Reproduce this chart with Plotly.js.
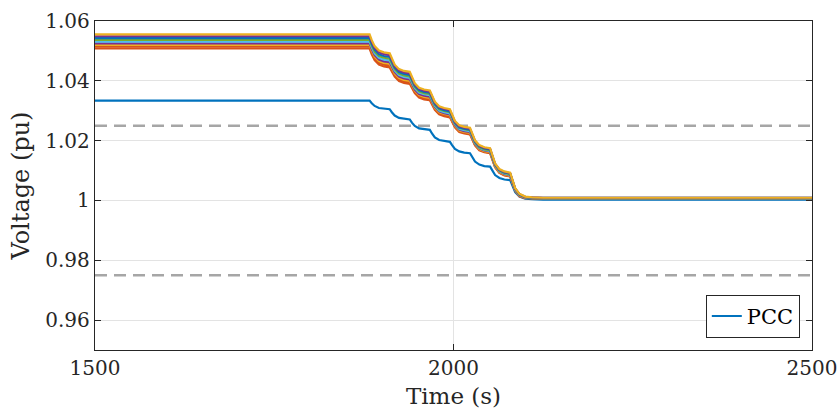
<!DOCTYPE html>
<html>
<head>
<meta charset="utf-8">
<script src="https://cdn.plot.ly/plotly-3.0.1.min.js"></script>
<style>html,body{margin:0;padding:0;background:#fff;}#chart{width:839px;height:419px;}</style>
</head>
<body>
<div id="chart"></div>
<script>
// Time axis (s)
const time = [1500,1883,1886,1890,1896,1903,1911,1914,1918,1924,1931,1939,1942,1946,1952,1959,1967,1970,1974,1980,1987,1995,1998,2002,2008,2015,2023,2026,2030,2036,2043,2051,2054,2058,2064,2071,2079,2082,2086,2092,2100,2110,2125,2500];

// PCC voltage (pu)
const pcc = [1.0334,1.0334,1.0325,1.0316,1.0309,1.0306,1.0305,1.0295,1.0284,1.0276,1.0273,1.0271,1.0260,1.0249,1.0241,1.0238,1.0236,1.0224,1.0211,1.0202,1.0198,1.0196,1.0185,1.0172,1.0164,1.0160,1.0158,1.0144,1.0130,1.0120,1.0115,1.0113,1.0100,1.0085,1.0075,1.0070,1.0068,1.0048,1.0028,1.0013,1.0006,1.0004,1.0003,1.0003];

// Other bus voltages (pu), top to bottom
const busTop = [1.0555,1.0555,1.0536,1.0516,1.0501,1.0495,1.0492,1.0473,1.0454,1.0439,1.0433,1.0430,1.0411,1.0392,1.0377,1.0371,1.0368,1.0349,1.0330,1.0315,1.0309,1.0305,1.0286,1.0266,1.0251,1.0246,1.0243,1.0223,1.0201,1.0185,1.0178,1.0175,1.0150,1.0124,1.0105,1.0097,1.0093,1.0068,1.0041,1.0022,1.0013,1.0010,1.0009,1.0009];
const busA = [1.0549,1.0549,1.0530,1.0510,1.0495,1.0489,1.0486,1.0468,1.0449,1.0434,1.0428,1.0425,1.0407,1.0388,1.0373,1.0367,1.0364,1.0346,1.0327,1.0312,1.0306,1.0302,1.0283,1.0263,1.0248,1.0243,1.0240,1.0221,1.0199,1.0183,1.0176,1.0173,1.0148,1.0122,1.0103,1.0095,1.0091,1.0067,1.0040,1.0021,1.0012,1.0010,1.0009,1.0009];
const busB = [1.0543,1.0543,1.0524,1.0504,1.0489,1.0483,1.0480,1.0463,1.0444,1.0429,1.0423,1.0420,1.0403,1.0384,1.0369,1.0363,1.0360,1.0342,1.0323,1.0308,1.0302,1.0298,1.0280,1.0260,1.0245,1.0240,1.0237,1.0219,1.0197,1.0181,1.0174,1.0171,1.0147,1.0121,1.0102,1.0094,1.0090,1.0066,1.0039,1.0020,1.0012,1.0009,1.0009,1.0009];
const busC = [1.0537,1.0537,1.0518,1.0498,1.0483,1.0477,1.0474,1.0458,1.0439,1.0424,1.0418,1.0415,1.0399,1.0380,1.0365,1.0359,1.0356,1.0339,1.0320,1.0305,1.0299,1.0295,1.0278,1.0258,1.0243,1.0238,1.0235,1.0216,1.0194,1.0178,1.0171,1.0168,1.0145,1.0119,1.0100,1.0092,1.0088,1.0065,1.0038,1.0019,1.0011,1.0009,1.0008,1.0008];
const busD = [1.0531,1.0531,1.0512,1.0492,1.0477,1.0471,1.0468,1.0453,1.0434,1.0419,1.0413,1.0410,1.0395,1.0376,1.0361,1.0355,1.0352,1.0335,1.0316,1.0301,1.0295,1.0291,1.0275,1.0255,1.0240,1.0235,1.0232,1.0214,1.0192,1.0176,1.0169,1.0166,1.0143,1.0117,1.0098,1.0090,1.0086,1.0064,1.0037,1.0018,1.0011,1.0009,1.0008,1.0008];
const busE = [1.0525,1.0525,1.0506,1.0486,1.0471,1.0465,1.0462,1.0448,1.0429,1.0414,1.0408,1.0405,1.0390,1.0371,1.0356,1.0350,1.0347,1.0332,1.0313,1.0298,1.0292,1.0288,1.0272,1.0252,1.0237,1.0232,1.0229,1.0212,1.0190,1.0174,1.0167,1.0164,1.0142,1.0116,1.0097,1.0089,1.0085,1.0063,1.0036,1.0017,1.0010,1.0009,1.0008,1.0008];
const busF = [1.0520,1.0520,1.0501,1.0481,1.0466,1.0460,1.0457,1.0443,1.0424,1.0409,1.0403,1.0400,1.0386,1.0367,1.0352,1.0346,1.0343,1.0329,1.0310,1.0295,1.0289,1.0285,1.0269,1.0249,1.0234,1.0229,1.0226,1.0210,1.0188,1.0172,1.0165,1.0162,1.0140,1.0114,1.0095,1.0087,1.0083,1.0062,1.0035,1.0016,1.0009,1.0008,1.0008,1.0008];
const busG = [1.0514,1.0514,1.0495,1.0475,1.0460,1.0454,1.0451,1.0438,1.0419,1.0404,1.0398,1.0395,1.0382,1.0363,1.0348,1.0342,1.0339,1.0325,1.0306,1.0291,1.0285,1.0281,1.0267,1.0247,1.0232,1.0227,1.0224,1.0208,1.0186,1.0170,1.0163,1.0160,1.0138,1.0112,1.0093,1.0085,1.0081,1.0061,1.0034,1.0015,1.0009,1.0008,1.0008,1.0008];
const busH = [1.0508,1.0508,1.0489,1.0469,1.0454,1.0448,1.0445,1.0433,1.0414,1.0399,1.0393,1.0390,1.0378,1.0359,1.0344,1.0338,1.0335,1.0322,1.0303,1.0288,1.0282,1.0278,1.0264,1.0244,1.0229,1.0224,1.0221,1.0206,1.0184,1.0168,1.0161,1.0158,1.0137,1.0111,1.0092,1.0084,1.0080,1.0060,1.0033,1.0014,1.0008,1.0008,1.0008,1.0008];

// Voltage limits (pu)
const limitX = [1500, 2500];
const limitHigh = [1.025, 1.025];
const limitLow = [0.975, 0.975];

// Axis ticks
const xTicks = [1500, 2000, 2500];
const yTicks = [0.96, 0.98, 1.00, 1.02, 1.04, 1.06];
const yTickText = ['0.96', '0.98', '1', '1.02', '1.04', '1.06'];

const FONT = 'DejaVu Serif, Liberation Serif, Times New Roman, serif';

const others = [
  {y: busH, c: '#D95319'},
  {y: busG, c: '#D95319'},
  {y: busF, c: '#EDB120'},
  {y: busE, c: '#7E2F8E'},
  {y: busD, c: '#4DBEEE'},
  {y: busC, c: '#77AC30'},
  {y: busB, c: '#0072BD'},
  {y: busA, c: '#7E2F8E'},
  {y: busTop, c: '#EDB120'}
];

const traces = [
  {x: limitX, y: limitHigh, mode: 'lines', line: {color: '#A6A6A6', width: 2.5, dash: '12px,7px'}, showlegend: false, hoverinfo: 'skip'},
  {x: limitX, y: limitLow, mode: 'lines', line: {color: '#A6A6A6', width: 2.5, dash: '12px,7px'}, showlegend: false, hoverinfo: 'skip'},
  {x: time, y: pcc, mode: 'lines', name: 'PCC', line: {color: '#0072BD', width: 2.2}}
];
others.forEach(o => traces.push({x: time, y: o.y, mode: 'lines', line: {color: o.c, width: 2.2}, showlegend: false}));

const layout = {
  width: 839, height: 419,
  margin: {l: 95, r: 27, t: 21, b: 69},
  paper_bgcolor: '#fff', plot_bgcolor: '#fff',
  font: {family: FONT, size: 20, color: '#262626'},
  showlegend: true,
  legend: {
    x: 0.983, y: 0.037, xanchor: 'right', yanchor: 'bottom',
    bgcolor: '#fff', bordercolor: '#262626', borderwidth: 1,
    font: {family: FONT, size: 21, color: '#000'},
    tracegroupgap: 0, itemwidth: 30
  },
  xaxis: {
    range: [1500, 2500], tickvals: xTicks, ticktext: xTicks.map(String),
    ticks: 'inside', ticklen: 6, tickwidth: 1, tickcolor: '#262626',
    showline: true, linecolor: '#262626', linewidth: 1.3, mirror: 'ticks',
    showgrid: true, gridcolor: '#E3E3E3', gridwidth: 1, zeroline: false,
    tickfont: {family: FONT, size: 20, color: '#262626'},
    title: {text: 'Time (s)', font: {family: FONT, size: 23, color: '#262626'}, standoff: 8}
  },
  yaxis: {
    range: [0.95, 1.06], tickvals: yTicks, ticktext: yTickText,
    ticks: 'inside', ticklen: 6, tickwidth: 1, tickcolor: '#262626',
    showline: true, linecolor: '#262626', linewidth: 1.3, mirror: 'ticks',
    showgrid: true, gridcolor: '#E3E3E3', gridwidth: 1, zeroline: false,
    tickfont: {family: FONT, size: 20, color: '#262626'},
    title: {text: 'Voltage (pu)', font: {family: FONT, size: 24, color: '#262626'}, standoff: 8}
  }
};

Plotly.newPlot('chart', traces, layout, {staticPlot: true, displayModeBar: false});
</script>
</body>
</html>
